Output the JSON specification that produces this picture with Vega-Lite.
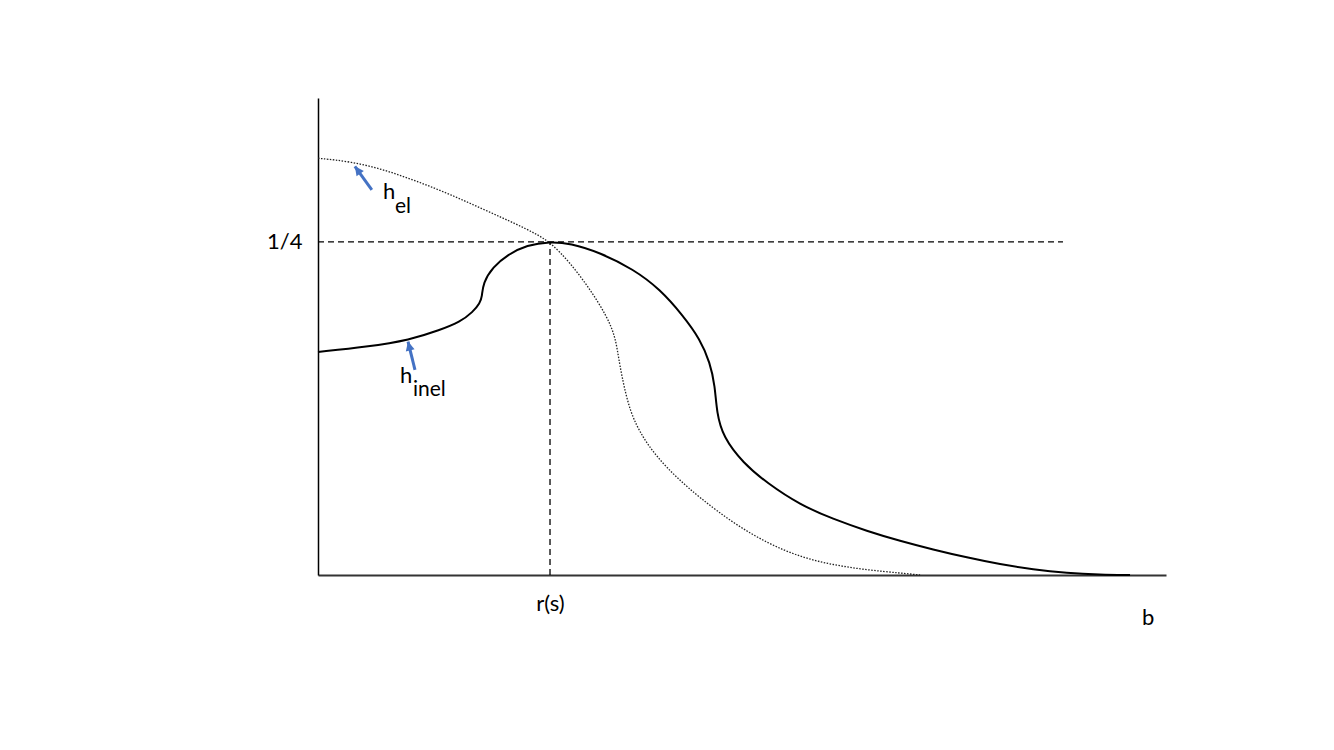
{
  "$schema": "https://vega.github.io/schema/vega-lite/v6.json",
  "width": 848,
  "height": 477,
  "autosize": {"type": "none"},
  "padding": {"left": 318, "top": 98, "right": 168, "bottom": 175},
  "background": "white",
  "config": {"view": {"stroke": null}, "font": "Lato"},
  "datasets": {
    "curves": [
      {"curve": "h_el", "i": 0, "b": 0.0, "h": 0.3128},
      {"curve": "h_el", "i": 1, "b": 0.1435, "h": 0.3103},
      {"curve": "h_el", "i": 2, "b": 0.2875, "h": 0.3041},
      {"curve": "h_el", "i": 3, "b": 0.431, "h": 0.2953},
      {"curve": "h_el", "i": 4, "b": 0.5746, "h": 0.2853},
      {"curve": "h_el", "i": 5, "b": 0.7185, "h": 0.274},
      {"curve": "h_el", "i": 6, "b": 0.8621, "h": 0.2628},
      {"curve": "h_el", "i": 7, "b": 0.934, "h": 0.2565},
      {"curve": "h_el", "i": 8, "b": 1.0, "h": 0.25},
      {"curve": "h_el", "i": 9, "b": 1.0862, "h": 0.2345},
      {"curve": "h_el", "i": 10, "b": 1.1724, "h": 0.2145},
      {"curve": "h_el", "i": 11, "b": 1.2444, "h": 0.1944},
      {"curve": "h_el", "i": 12, "b": 1.2802, "h": 0.1794},
      {"curve": "h_el", "i": 13, "b": 1.2944, "h": 0.1644},
      {"curve": "h_el", "i": 14, "b": 1.3091, "h": 0.1494},
      {"curve": "h_el", "i": 15, "b": 1.3448, "h": 0.1218},
      {"curve": "h_el", "i": 16, "b": 1.401, "h": 0.1029},
      {"curve": "h_el", "i": 17, "b": 1.461, "h": 0.0886},
      {"curve": "h_el", "i": 18, "b": 1.547, "h": 0.0728},
      {"curve": "h_el", "i": 19, "b": 1.647, "h": 0.0578},
      {"curve": "h_el", "i": 20, "b": 1.789, "h": 0.039},
      {"curve": "h_el", "i": 21, "b": 1.935, "h": 0.024},
      {"curve": "h_el", "i": 22, "b": 2.078, "h": 0.0135},
      {"curve": "h_el", "i": 23, "b": 2.22, "h": 0.0075},
      {"curve": "h_el", "i": 24, "b": 2.366, "h": 0.0038},
      {"curve": "h_el", "i": 25, "b": 2.509, "h": 0.0015},
      {"curve": "h_el", "i": 26, "b": 2.595, "h": 0.0},
      {"curve": "h_inel", "i": 0, "b": 0.0, "h": 0.1674},
      {"curve": "h_inel", "i": 1, "b": 0.211, "h": 0.1712},
      {"curve": "h_inel", "i": 2, "b": 0.397, "h": 0.1764},
      {"curve": "h_inel", "i": 3, "b": 0.526, "h": 0.1839},
      {"curve": "h_inel", "i": 4, "b": 0.612, "h": 0.1899},
      {"curve": "h_inel", "i": 5, "b": 0.668, "h": 0.1974},
      {"curve": "h_inel", "i": 6, "b": 0.698, "h": 0.2042},
      {"curve": "h_inel", "i": 7, "b": 0.707, "h": 0.2087},
      {"curve": "h_inel", "i": 8, "b": 0.711, "h": 0.2192},
      {"curve": "h_inel", "i": 9, "b": 0.754, "h": 0.2312},
      {"curve": "h_inel", "i": 10, "b": 0.815, "h": 0.2402},
      {"curve": "h_inel", "i": 11, "b": 0.901, "h": 0.2477},
      {"curve": "h_inel", "i": 12, "b": 1.0, "h": 0.2502},
      {"curve": "h_inel", "i": 13, "b": 1.0862, "h": 0.249},
      {"curve": "h_inel", "i": 14, "b": 1.2155, "h": 0.242},
      {"curve": "h_inel", "i": 15, "b": 1.3591, "h": 0.2295},
      {"curve": "h_inel", "i": 16, "b": 1.4741, "h": 0.2145},
      {"curve": "h_inel", "i": 17, "b": 1.5744, "h": 0.1944},
      {"curve": "h_inel", "i": 18, "b": 1.6466, "h": 0.177},
      {"curve": "h_inel", "i": 19, "b": 1.6897, "h": 0.1594},
      {"curve": "h_inel", "i": 20, "b": 1.7112, "h": 0.1419},
      {"curve": "h_inel", "i": 21, "b": 1.7185, "h": 0.1218},
      {"curve": "h_inel", "i": 22, "b": 1.746, "h": 0.1036},
      {"curve": "h_inel", "i": 23, "b": 1.832, "h": 0.0841},
      {"curve": "h_inel", "i": 24, "b": 1.935, "h": 0.0691},
      {"curve": "h_inel", "i": 25, "b": 2.078, "h": 0.0526},
      {"curve": "h_inel", "i": 26, "b": 2.22, "h": 0.042},
      {"curve": "h_inel", "i": 27, "b": 2.366, "h": 0.033},
      {"curve": "h_inel", "i": 28, "b": 2.509, "h": 0.0255},
      {"curve": "h_inel", "i": 29, "b": 2.651, "h": 0.0191},
      {"curve": "h_inel", "i": 30, "b": 2.797, "h": 0.0131},
      {"curve": "h_inel", "i": 31, "b": 2.94, "h": 0.008},
      {"curve": "h_inel", "i": 32, "b": 3.082, "h": 0.0041},
      {"curve": "h_inel", "i": 33, "b": 3.228, "h": 0.0015},
      {"curve": "h_inel", "i": 34, "b": 3.371, "h": 0.0003},
      {"curve": "h_inel", "i": 35, "b": 3.5, "h": 0.0}
    ],
    "guides": [
      {"b": 0, "h": 0.25, "b2": 3.211, "h2": 0.25},
      {"b": 1, "h": 0, "b2": 1, "h2": 0.25}
    ],
    "arrows": [
      {"name": "el", "b": 0.232, "h": 0.2890, "b2": 0.159, "h2": 0.3067},
      {"name": "inel", "b": 0.418, "h": 0.1539, "b2": 0.388, "h2": 0.1752}
    ],
    "mainText": [
      {"t": "h", "b": 0.280, "h": 0.2823},
      {"t": "h", "b": 0.353, "h": 0.1441},
      {"t": "b", "b": 3.552, "h": -0.0375}
    ],
    "subText": [
      {"t": "el", "b": 0.332, "h": 0.2720},
      {"t": "inel", "b": 0.409, "h": 0.1344}
    ]
  },
  "layer": [
    {
      "data": {"name": "guides"},
      "mark": {"type": "rule", "color": "black", "strokeWidth": 1.3, "strokeDash": [6, 4]},
      "encoding": {
        "x": {"field": "b", "type": "quantitative", "scale": {"domain": [0, 3.655], "nice": false, "zero": false},
          "axis": {"values": [1], "labelExpr": "'r(s)'", "ticks": false, "tickSize": 0, "grid": false, "title": null,
            "domainColor": "#333333", "domainWidth": 2, "labelFont": "Lato", "labelFontSize": 22, "labelColor": "black",
            "labelPadding": 18, "labelBaseline": "top"}},
        "y": {"field": "h", "type": "quantitative", "scale": {"domain": [0, 0.358], "nice": false, "zero": false},
          "axis": {"values": [0.25], "labelExpr": "'1/4'", "ticks": false, "tickSize": 0, "grid": false, "title": null,
            "domainColor": "black", "domainWidth": 1.5, "labelFont": "Lato", "labelFontSize": 22, "labelColor": "black",
            "labelPadding": 16}},
        "x2": {"field": "b2"},
        "y2": {"field": "h2"}
      }
    },
    {
      "data": {"name": "curves"},
      "transform": [{"filter": "datum.curve === 'h_el'"}],
      "mark": {"type": "line", "color": "#222222", "strokeWidth": 1.3, "strokeDash": [1.5, 1.5], "interpolate": "basis"},
      "encoding": {
        "x": {"field": "b", "type": "quantitative"},
        "y": {"field": "h", "type": "quantitative"},
        "order": {"field": "i", "type": "quantitative"}
      }
    },
    {
      "data": {"name": "curves"},
      "transform": [{"filter": "datum.curve === 'h_inel'"}],
      "mark": {"type": "line", "color": "black", "strokeWidth": 2, "interpolate": "basis"},
      "encoding": {
        "x": {"field": "b", "type": "quantitative"},
        "y": {"field": "h", "type": "quantitative"},
        "order": {"field": "i", "type": "quantitative"}
      }
    },
    {
      "data": {"name": "arrows"},
      "mark": {"type": "rule", "color": "#4472C4", "strokeWidth": 3},
      "encoding": {
        "x": {"field": "b", "type": "quantitative"},
        "y": {"field": "h", "type": "quantitative"},
        "x2": {"field": "b2"},
        "y2": {"field": "h2"}
      }
    },
    {
      "data": {"name": "arrows"},
      "transform": [{"filter": "datum.name === 'el'"}],
      "mark": {"type": "point", "filled": true, "color": "#4472C4", "opacity": 1, "size": 324, "shape": "M0,0L0.5,1L-0.5,1Z", "angle": 324},
      "encoding": {
        "x": {"field": "b2", "type": "quantitative"},
        "y": {"field": "h2", "type": "quantitative"}
      }
    },
    {
      "data": {"name": "arrows"},
      "transform": [{"filter": "datum.name === 'inel'"}],
      "mark": {"type": "point", "filled": true, "color": "#4472C4", "opacity": 1, "size": 324, "shape": "M0,0L0.5,1L-0.5,1Z", "angle": 346},
      "encoding": {
        "x": {"field": "b2", "type": "quantitative"},
        "y": {"field": "h2", "type": "quantitative"}
      }
    },
    {
      "data": {"name": "mainText"},
      "mark": {"type": "text", "font": "Lato", "fontSize": 22, "align": "left", "baseline": "alphabetic", "color": "black"},
      "encoding": {
        "x": {"field": "b", "type": "quantitative"},
        "y": {"field": "h", "type": "quantitative"},
        "text": {"field": "t"}
      }
    },
    {
      "data": {"name": "subText"},
      "mark": {"type": "text", "font": "Lato", "fontSize": 21, "align": "left", "baseline": "alphabetic", "color": "black"},
      "encoding": {
        "x": {"field": "b", "type": "quantitative"},
        "y": {"field": "h", "type": "quantitative"},
        "text": {"field": "t"}
      }
    }
  ]
}
